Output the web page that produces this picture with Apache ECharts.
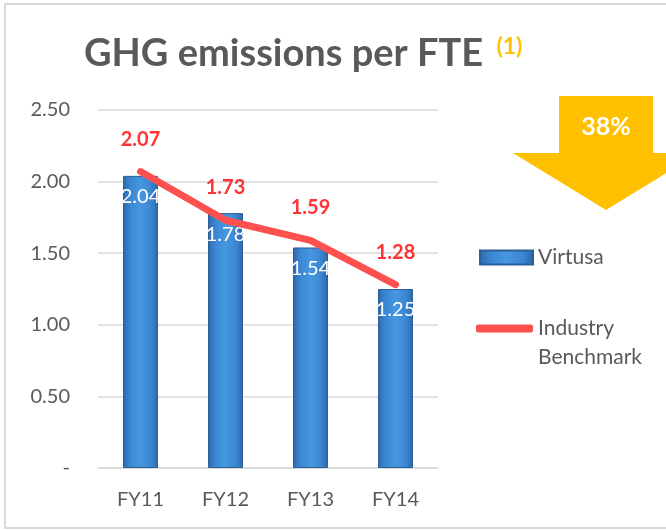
<!DOCTYPE html>
<html>
<head>
<meta charset="utf-8">
<script src="https://cdn.jsdelivr.net/npm/echarts@6/dist/echarts.min.js"></script>
<style>
    html, body { margin: 0; padding: 0; background: #fff; }
    #chart { width: 666px; height: 530px; }
</style>
</head>
<body>
<div id="chart"></div>
<script>
var categories = ["FY11", "FY12", "FY13", "FY14"];
var virtusaValues = [2.04, 1.78, 1.54, 1.25];
var benchmarkValues = [2.07, 1.73, 1.59, 1.28];
var yTicks = [0, 0.5, 1, 1.5, 2, 2.5];
var reductionLabel = "38%";

var fontFamily = "Lato, 'Open Sans', sans-serif";
var textGray = "#595959";

var barColor = new echarts.graphic.LinearGradient(0, 0, 1, 0, [
    { offset: 0, color: "#2c68a8" },
    { offset: 0.2, color: "#3b86d2" },
    { offset: 0.5, color: "#4697e0" },
    { offset: 0.8, color: "#3b86d2" },
    { offset: 1, color: "#2c68a8" }
]);

var option = {
    animation: false,
    title: {
        left: 84,
        top: 35,
        padding: 0,
        text: "GHG emissions per FTE {sup|(1)}",
        textStyle: {
            fontFamily: fontFamily,
            fontSize: 38,
            fontWeight: "bold",
            color: textGray,
            rich: {
                sup: {
                    fontFamily: fontFamily,
                    fontSize: 23,
                    fontWeight: "bold",
                    color: "#FFC000",
                    padding: [0, 0, 14, 4]
                }
            }
        }
    },
    legend: [{
        left: 479,
        top: 247,
        padding: 0,
        data: ["Virtusa"],
        itemWidth: 53,
        itemHeight: 14,
        itemGap: 5,
        icon: "rect",
        textStyle: { fontFamily: fontFamily, fontSize: 21, color: textGray }
    },
    {
        left: 476,
        top: 285,
        padding: 0,
        data: ["Industry Benchmark"],
        itemWidth: 57,
        itemHeight: 8,
        icon: "roundRect",
        formatter: function() {
            return "\nIndustry\nBenchmark"
        },
        textStyle: {
            fontFamily: fontFamily,
            fontSize: 21,
            lineHeight: 29,
            color: textGray
        }
    }],
    grid: {
        left: 98,
        right: 228,
        top: 110,
        bottom: 62
    },
    xAxis: {
        type: "category",
        data: categories,
        axisTick: { show: false },
        axisLine: { lineStyle: { color: "#d9d9d9", width: 1.5 } },
        axisLabel: {
            margin: 22,
            fontFamily: fontFamily,
            fontSize: 20,
            color: textGray
        }
    },
    yAxis: {
        type: "value",
        min: yTicks[0],
        max: yTicks[yTicks.length - 1],
        interval: 0.5,
        axisLine: { show: false },
        axisTick: { show: false },
        splitLine: { lineStyle: { color: "#d9d9d9", width: 1.5 } },
        axisLabel: {
            margin: 28,
            fontFamily: fontFamily,
            fontSize: 20,
            color: textGray,
            formatter: function(v) {
                return v === 0 ? "-" : v.toFixed(2)
            }
        }
    },
    series: [{
        name: "Virtusa",
        type: "bar",
        data: virtusaValues,
        barWidth: 35,
        itemStyle: {
            color: barColor,
            borderColor: "#2a5f98",
            borderWidth: 1
        },
        label: {
            show: true,
            position: "insideTop",
            distance: 11,
            fontFamily: fontFamily,
            fontSize: 20,
            color: "#fff",
            formatter: function(p) {
                return p.value.toFixed(2)
            }
        }
    },
    {
        name: "Industry Benchmark",
        type: "line",
        data: benchmarkValues,
        symbol: "circle",
        symbolSize: 1,
        itemStyle: { color: "#FF5050" },
        lineStyle: { color: "#FF5050", width: 7, cap: "round", join: "round" },
        label: {
            show: true,
            position: "top",
            distance: 22,
            fontFamily: fontFamily,
            fontSize: 20,
            fontWeight: "bold",
            color: "#FF3333",
            formatter: function(p) {
                return p.value.toFixed(2)
            }
        }
    }],
    graphic: [{
        type: "rect",
        shape: { x: 5, y: 4, width: 700, height: 524 },
        style: { fill: "none", stroke: "#d9d9d9", lineWidth: 2 },
        silent: true
    },
    {
        type: "polygon",
        shape: {
            points: [[559, 96], [653, 96], [653, 153], [699, 153], [606, 210], [513, 153], [559, 153]]
        },
        style: { fill: "#FFC000" }
    },
    {
        type: "text",
        x: 606,
        y: 127,
        style: {
            text: reductionLabel,
            fontFamily: fontFamily,
            fontSize: 25,
            fontWeight: "bold",
            fill: "#fff",
            align: "center",
            verticalAlign: "middle"
        }
    }]
};

var myChart = echarts.init(document.getElementById("chart"));
myChart.setOption(option);
</script>
</body>
</html>
